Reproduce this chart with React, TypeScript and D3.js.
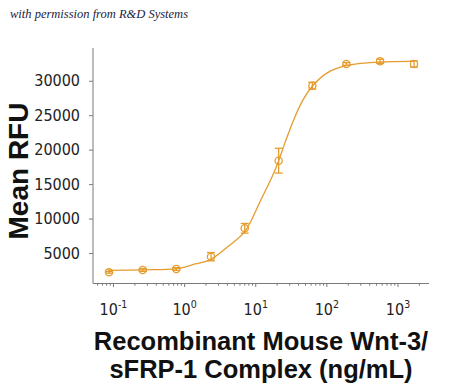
import React, { useEffect, useRef } from 'react';
import * as d3 from 'd3';

// measured points (ng/mL, mean RFU, error)
const CONC = [0.0865, 0.258, 0.764, 2.35, 7.0, 21.0, 62.5, 188, 560, 1680];
const RFU = [2200, 2540, 2680, 4470, 8590, 18400, 29280, 32430, 32820, 32430];
const ERR = [120, 200, 200, 600, 700, 1800, 500, 200, 300, 450];

// fitted curve
const FIT_X = [0.0837, 0.258, 0.764, 1.41, 2.35, 4.04, 7.0, 11.8, 18.7, 26.2, 33.8, 45, 62.5, 99.8, 188, 560, 1680];
const FIT_Y = [2470, 2570, 2730, 3410, 4090, 5920, 8100, 12700, 17050, 21200, 24200, 27000, 29200, 31100, 32180, 32720, 32820];

const Y_TICKS = [5000, 10000, 15000, 20000, 25000, 30000];
const X_DECADES = [-1, 0, 1, 2, 3];

const ORANGE = '#E59C2E';
const AXIS = '#7a7a7a';
const NARROW = '"Liberation Sans Narrow", "DejaVu Sans Condensed", sans-serif';

export default function App()
{
    const svgRef = useRef(null);

    useEffect(() =>
    {
        const svg = d3.select(svgRef.current);
        svg.selectAll('*').remove();

        const left = 93, right = 429, top = 48, bottom = 283.5;

        const x = d3.scaleLog()
            .domain([Math.pow(10, -1.288), Math.pow(10, 3.436)])
            .range([left, right]);
        const y = d3.scaleLinear().domain([580, 34750]).range([bottom, top]);

        // caption
        svg.append('text')
            .attr('x', 10)
            .attr('y', 18)
            .attr('font-family', '"Liberation Serif", serif')
            .attr('font-style', 'italic')
            .attr('font-size', 12.5)
            .attr('fill', '#1c1c3c')
            .text('with permission from R&D Systems');

        // y axis
        const yAxis = svg.append('g')
            .attr('transform', `translate(${ left },0)`)
            .call(d3.axisLeft(y).tickValues(Y_TICKS).tickSize(4).tickPadding(9).tickFormat(d3.format('d')));
        yAxis.select('.domain').attr('stroke', AXIS).attr('d', `M0,${ top }V${ bottom }`);
        yAxis.selectAll('.tick line').attr('stroke', AXIS);
        yAxis.selectAll('.tick text')
            .attr('font-family', NARROW)
            .attr('font-size', 16)
            .attr('fill', '#222');

        // x axis
        const xg = svg.append('g').attr('transform', `translate(0,${ bottom })`);
        xg.append('line')
            .attr('x1', left).attr('x2', right)
            .attr('stroke', AXIS);
        const allTicks = x.ticks();
        xg.selectAll('line.tk')
            .data(allTicks)
            .join('line')
            .attr('class', 'tk')
            .attr('x1', (d) => x(d)).attr('x2', (d) => x(d))
            .attr('y1', 0)
            .attr('y2', (d) => (Math.abs(Math.log10(d) - Math.round(Math.log10(d))) < 1e-6 ? 3.5 : 2.2))
            .attr('stroke', AXIS);

        const lbl = xg.selectAll('text.lb')
            .data(X_DECADES)
            .join('text')
            .attr('class', 'lb')
            .attr('x', (d) => x(Math.pow(10, d)))
            .attr('y', 31.5)
            .attr('text-anchor', 'middle')
            .attr('font-family', NARROW)
            .attr('font-size', 16)
            .attr('fill', '#222');
        lbl.append('tspan').text('10');
        lbl.append('tspan')
            .attr('font-size', 10.5)
            .attr('dy', -7)
            .text((d) => String(d));

        // axis titles
        svg.append('text')
            .attr('transform', 'translate(28,171) rotate(-90)')
            .attr('text-anchor', 'middle')
            .attr('font-family', '"Liberation Sans", Arial, sans-serif')
            .attr('font-weight', 'bold')
            .attr('font-size', 28)
            .attr('fill', '#111')
            .text('Mean RFU');

        const titleLines = ['Recombinant Mouse Wnt-3/', 'sFRP-1 Complex (ng/mL)'];
        svg.selectAll('text.xt')
            .data(titleLines)
            .join('text')
            .attr('class', 'xt')
            .attr('x', 261)
            .attr('y', (d, i) => 350 + i * 27.5)
            .attr('text-anchor', 'middle')
            .attr('font-family', '"Liberation Sans", Arial, sans-serif')
            .attr('font-weight', 'bold')
            .attr('font-size', 25.5)
            .attr('fill', '#111')
            .text((d) => d);

        // fit curve
        const fit = FIT_X.map((v, i) => [v, FIT_Y[i]]);
        svg.append('path')
            .datum(fit)
            .attr('fill', 'none')
            .attr('stroke', ORANGE)
            .attr('stroke-width', 1.3)
            .attr('d', d3.line().x((d) => x(d[0])).y((d) => y(d[1])).curve(d3.curveCatmullRom.alpha(0.5)));

        // points with error bars
        const pts = CONC.map((c, i) => ({ c, v: RFU[i], e: ERR[i] }));
        const pg = svg.append('g')
            .attr('stroke', ORANGE)
            .attr('stroke-width', 1.3)
            .attr('fill', 'none');
        pts.forEach((p) =>
        {
            const cx = x(p.c);
            const y1 = y(p.v + p.e);
            const y2 = y(p.v - p.e);
            pg.append('line').attr('x1', cx).attr('x2', cx).attr('y1', y1).attr('y2', y2);
            pg.append('line').attr('x1', cx - 4).attr('x2', cx + 4).attr('y1', y1).attr('y2', y1);
            pg.append('line').attr('x1', cx - 4).attr('x2', cx + 4).attr('y1', y2).attr('y2', y2);
            pg.append('circle').attr('cx', cx).attr('cy', y(p.v)).attr('r', 3.6);
        });
    }, []);

    return (
        <svg
            ref={ svgRef }
            width={ 450 }
            height={ 392 }
            style={ { position: 'absolute', left: 0, top: 0, background: '#fff' } }
        />
    );
}
